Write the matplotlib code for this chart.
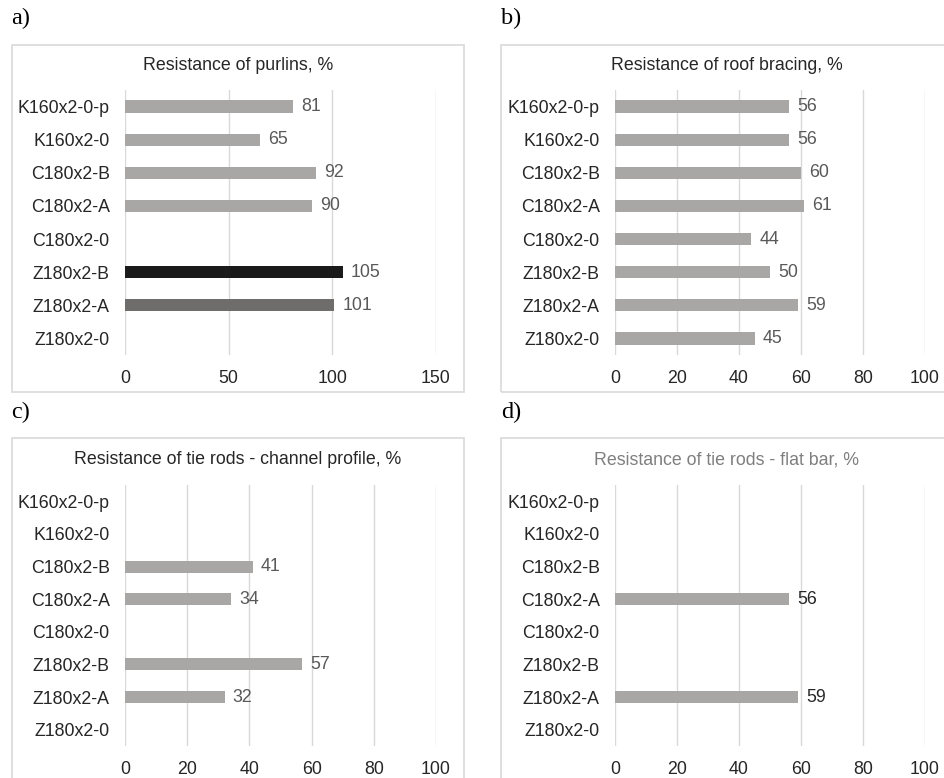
import numpy as np
import matplotlib.pyplot as plt
from matplotlib.patches import Rectangle

plt.rcParams['font.family'] = ['Liberation Sans', 'DejaVu Sans']

categories = ['K160x2-0-p', 'K160x2-0', 'C180x2-B', 'C180x2-A',
              'C180x2-0', 'Z180x2-B', 'Z180x2-A', 'Z180x2-0']

# None = no bar for that profile
purlins = [81, 65, 92, 90, None, 105, 101, None]
bracing = [56, 56, 60, 61, 44, 50, 59, 45]
tie_channel = [None, None, 41, 34, None, 57, 32, None]
tie_flat = [None, None, None, 56, None, None, 59, None]

purlins_colors = ['#a9a6a6'] * 5 + ['#1a1a1a', '#6f6c6c', '#a9a6a6']

W, H = 945, 778
FS = 12.8
fig = plt.figure(figsize=(W / 100, H / 100), dpi=100)


def px_axes(left, top, right, bottom):
    return fig.add_axes([left / W, 1 - bottom / H, (right - left) / W, (bottom - top) / H])


def frame(x0, y0, x1, y1):
    fig.patches.append(Rectangle((x0 / W, 1 - y1 / H), (x1 - x0) / W, (y1 - y0) / H,
                                 transform=fig.transFigure, fill=False,
                                 edgecolor='#d9d9d9', linewidth=1.2))


def panel(ax, values, colors, xmax, step, label_color):
    y = np.arange(len(categories))
    for i, v in enumerate(values):
        if v is None:
            continue
        ax.barh(y[i], v, height=0.37, color=colors[i], zorder=3)
        ax.annotate(str(v), (v, y[i]), xytext=(6, 0), textcoords='offset points',
                    ha='left', va='center', fontsize=FS, color=label_color)
    ax.set_yticks(y)
    ax.set_yticklabels(categories)
    ax.set_ylim(len(categories) - 0.5, -0.5)
    ax.set_xlim(0, xmax)
    ax.set_xticks(np.arange(0, xmax + 1, step))
    ax.grid(axis='x', color='#d9d9d9', linewidth=1, zorder=0)
    ax.tick_params(length=0, labelsize=FS, colors='#262626')
    ax.tick_params(axis='x', pad=11)
    ax.tick_params(axis='y', pad=11)
    for s in ax.spines.values():
        s.set_visible(False)
    ax.set_facecolor('none')


def title(x, y, text, color):
    fig.text(x / W, 1 - y / H, text, fontsize=FS, color=color, ha='center', va='center')


frame(12, 45, 464, 392)
frame(501, 45, 960, 392)
frame(12, 438, 464, 790)
frame(501, 438, 960, 790)

ax_a = px_axes(125, 90, 436, 355)
panel(ax_a, purlins, purlins_colors, 150, 50, '#595959')
title(238, 65, 'Resistance of purlins, %', '#262626')

ax_b = px_axes(615, 90, 925, 355)
panel(ax_b, bracing, ['#a9a6a6'] * 8, 100, 20, '#595959')
title(727, 65, 'Resistance of roof bracing, %', '#262626')

ax_c = px_axes(125, 485, 436, 746)
panel(ax_c, tie_channel, ['#a9a6a6'] * 8, 100, 20, '#595959')
title(238, 460, 'Resistance of tie rods - channel profile, %', '#262626')

ax_d = px_axes(615, 485, 925, 746)
panel(ax_d, tie_flat, ['#a9a6a6'] * 8, 100, 20, '#262626')
title(727, 460, 'Resistance of tie rods - flat bar, %', '#7f7f7f')

for lbl, x, yy in [('a)', 11, 18), ('b)', 501, 18), ('c)', 11, 412), ('d)', 501, 412)]:
    fig.text(x / W, 1 - yy / H, lbl, family='Liberation Serif', fontsize=17.5,
             ha='left', va='center', color='black')

plt.savefig('out.png', dpi=100)
